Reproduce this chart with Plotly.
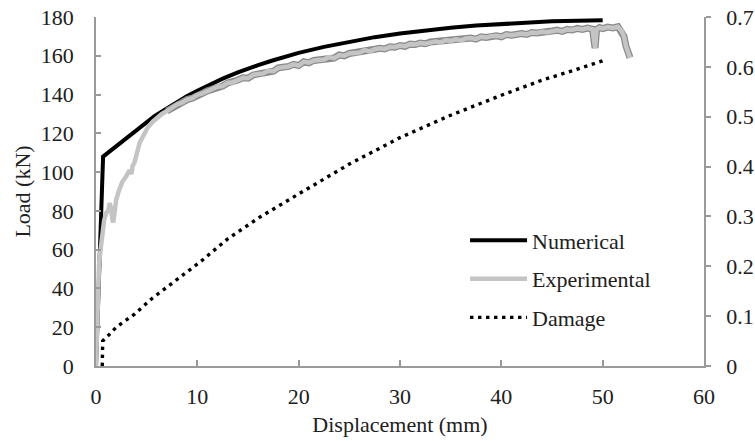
import plotly.graph_objects as go

# ---------------- data ----------------
num_x = [0, 0.7, 5.8, 7, 8, 9, 10, 11, 12.5, 14, 15, 16, 17.5, 20, 22.5, 25, 27.5, 30,
         32.5, 35, 37.5, 40, 42.5, 45, 47.5, 50]
num_y = [0, 108, 129, 133, 136.3, 139.3, 142, 144.6, 148.2, 151.4, 153.4, 155.2, 157.7, 161.5,
         164.6, 167.3, 169.6, 171.5, 173.1, 174.5, 175.6, 176.5, 177.2, 177.8, 178.1, 178.3]

exp_x = [0, 0.1, 0.2, 0.3, 0.45, 0.6, 0.8, 1.0, 1.2, 1.35, 1.5, 1.6, 1.7, 1.85, 2.0, 2.3, 2.6,
         3.0, 3.3, 3.5, 3.6, 3.8, 4.0, 4.3, 4.7, 5.1, 5.6, 6.0, 6.5,
         7.0, 7.5, 8.0, 8.5, 9.0, 9.5, 10.0, 10.5, 11.0, 11.5, 12.0, 12.5, 13.0, 13.5, 14.0, 14.5,
         15.0, 15.5, 16.0, 16.5, 17.0, 17.5, 18.0, 18.5, 19.0, 19.5, 20.0, 20.5, 21.0, 21.5, 22.0,
         22.5, 23.0, 23.5, 24.0, 24.5, 25.0, 25.5, 26.0, 26.5, 27.0, 27.5, 28.0, 28.5, 29.0, 29.5,
         30.0, 30.5, 31.0, 31.5, 32.0, 32.5, 33.0, 33.5, 34.0, 34.5, 35.0, 35.5, 36.0, 36.5, 37.0,
         37.5, 38.0, 38.5, 39.0, 39.5, 40.0, 40.5, 41.0, 41.5, 42.0, 42.5, 43.0, 43.5, 44.0, 44.5,
         45.0, 45.5, 46.0, 46.5, 47.0, 47.5, 48.0, 48.5, 49.0, 49.25, 49.4, 49.7, 50.0, 50.5, 51.0,
         51.5, 51.9, 52.1, 52.3, 52.5, 52.7]
exp_y = [0, 18, 38, 52, 60, 68, 75, 79, 80, 84, 81, 76, 74, 80, 86, 91, 95,
         98, 101, 99, 103, 105, 109, 115, 119, 123, 126, 128, 130,
         131.5, 133.2, 134.9, 135.8, 137.4, 138.1, 139.8, 140.6, 141.9, 142.6, 144.0, 144.4,
         146.0, 146.3, 147.5, 148.6, 148.4, 150.1, 150.6, 150.9, 152.3, 152.0, 153.8, 153.9,
         154.5, 155.6, 155.0, 156.9, 156.4, 157.6, 157.9, 158.1, 159.3, 158.8, 160.4, 160.0,
         161.2, 161.5, 161.7, 162.9, 162.3, 163.4, 163.9, 163.5, 164.6, 164.4, 165.3, 164.9,
         166.0, 165.8, 166.6, 166.2, 167.1, 167.4, 166.9, 168.0, 167.7, 168.5, 168.0, 168.9,
         169.1, 168.6, 169.8, 169.4, 170.1, 170.3, 169.8, 170.9, 170.6, 171.2, 171.5, 171.0,
         172.0, 171.8, 172.4, 172.1, 172.8, 173.2, 172.6, 173.6, 173.3, 174.1, 173.6, 174.3,
         173.7, 164.0, 173.6, 174.5, 174.0, 174.8, 174.4, 175.0, 172.5, 170.0, 165.0, 161.0, 159.0]

edge_start = 29  # index where the noisy band (with darker edge) begins

dmg_x = [0.62, 0.64, 0.66, 1.25, 2.0, 3.8, 5.5, 7.7, 10.3, 13, 16.2, 20, 25, 30, 35, 40, 44.1, 47, 50]
dmg_y = [0, 0.025, 0.05, 0.062, 0.078, 0.104, 0.135, 0.169, 0.209, 0.255, 0.299, 0.345, 0.405,
         0.458, 0.503, 0.543, 0.574, 0.592, 0.612]

load_ticks = [0, 20, 40, 60, 80, 100, 120, 140, 160, 180]
disp_ticks = [0, 10, 20, 30, 40, 50, 60]
dmg_ticks = [0, 0.1, 0.2, 0.3, 0.4, 0.5, 0.6, 0.7]
dmg_tick_text = ["0", "0.1", "0.2", "0.3", "0.4", "0.5", "0.6", "0.7"]

FONT = "Liberation Serif"
TXT = "#202020"
AX = "#9a9a9a"
FS = 22
tf = dict(family=FONT, size=FS, color=TXT)

fig = go.Figure()
fig.add_trace(go.Scatter(x=num_x, y=num_y, mode="lines", name="Numerical",
                         legendgroup="g1",
                         line=dict(color="#000000", width=4)))
fig.add_trace(go.Scatter(x=exp_x[edge_start:], y=exp_y[edge_start:], mode="lines",
                         showlegend=False, legendgroup="g2", hoverinfo="skip",
                         line=dict(color="#8a8a8a", width=7)))
fig.add_trace(go.Scatter(x=exp_x, y=exp_y, mode="lines", name="Experimental",
                         legendgroup="g2",
                         line=dict(color="#c4c4c4", width=4.5)))
fig.add_trace(go.Scatter(x=dmg_x, y=dmg_y, mode="lines", name="Damage", yaxis="y2",
                         legendgroup="g3",
                         line=dict(color="#000000", width=3.4, dash="3.4px,4.6px")))

fig.update_layout(
    width=755, height=441,
    margin=dict(l=96, r=51, t=17, b=75, autoexpand=False),
    paper_bgcolor="white", plot_bgcolor="white",
    font=tf,
    xaxis=dict(range=[0, 60], tickvals=disp_ticks, showgrid=False, zeroline=False,
               showline=True, linecolor=AX, linewidth=1.5, automargin=False,
               ticks="inside", ticklen=6, tickcolor=AX, tickwidth=1.5,
               ticklabelstandoff=10, tickfont=tf,
               title=dict(text="Displacement (mm)", standoff=8, font=tf)),
    yaxis=dict(range=[0, 180], tickvals=load_ticks, showgrid=False, zeroline=False,
               showline=True, linecolor=AX, linewidth=1.5, automargin=False,
               ticks="inside", ticklen=5, tickcolor=AX, tickwidth=1.5,
               ticklabelstandoff=16, tickfont=tf,
               title=dict(text="Load (kN)", standoff=4, font=tf)),
    yaxis2=dict(range=[0, 0.7], tickvals=dmg_ticks, ticktext=dmg_tick_text,
                overlaying="y", side="right", showgrid=False, zeroline=False,
                showline=True, linecolor=AX, linewidth=1.5, automargin=False,
                ticks="outside", ticklen=5, tickcolor=AX, tickwidth=1.5,
                ticklabelstandoff=11, tickfont=tf),
    legend=dict(x=0.607, y=0.42, xanchor="left", yanchor="top",
                bgcolor="rgba(0,0,0,0)", itemwidth=57, tracegroupgap=7,
                font=tf),
    showlegend=True,
)

fig.write_html("out.html")
